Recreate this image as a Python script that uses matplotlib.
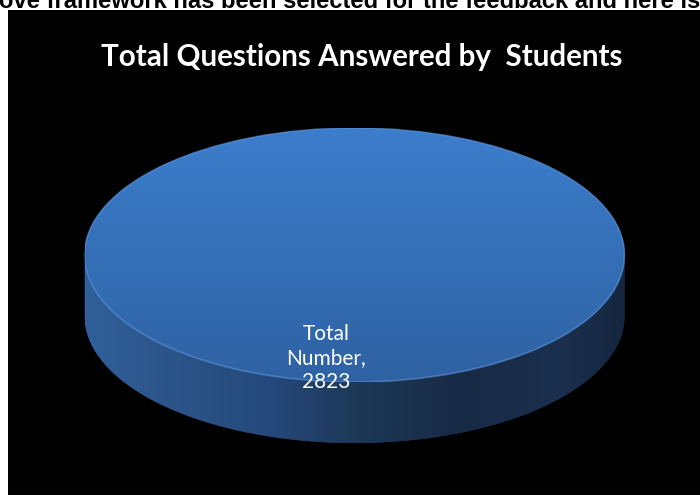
import numpy as np
import matplotlib.pyplot as plt
from matplotlib.colors import LinearSegmentedColormap
from matplotlib.patches import Rectangle, PathPatch, Ellipse
from matplotlib.path import Path

# Data from the chart
labels = ['Total Number']
values = [2823]
title = 'Total Questions Answered by  Students'
header = 'ove framework has been selected for the feedback and here is'

W, H = 700, 495
fig = plt.figure(figsize=(7, 4.95), dpi=100, facecolor='white')

# background in pixel coordinates
bg = fig.add_axes([0, 0, 1, 1])
bg.set_xlim(0, W)
bg.set_ylim(H, 0)
bg.axis('off')
bg.add_patch(Rectangle((8, 10), W - 8, H - 10, facecolor='black', edgecolor='none'))
bg.text(-1, 8.5, header, fontsize=17.1, fontweight='bold', family='Liberation Sans',
        color='black', ha='left', va='baseline')
bg.text(362, 57, title, fontsize=21.3, fontweight='bold', family='Lato',
        color='white', ha='center', va='center')

# 3d pie geometry (pixels)
cx, cy, a, b, depth = 354.5, 255, 270, 127, 61

# side of the disc
t = np.linspace(0, np.pi, 300)
upper = np.column_stack([cx + a * np.cos(t), cy + b * np.sin(t)])
lower = np.column_stack([cx + a * np.cos(t[::-1]), cy + depth + b * np.sin(t[::-1])])
verts = np.vstack([upper, lower, upper[:1]])
side = PathPatch(Path(verts), facecolor='#1e3759', edgecolor='none')
bg.add_patch(side)
side_cmap = LinearSegmentedColormap.from_list('side', [
    (0.0, '#30609a'), (0.17, '#2b5488'), (0.35, '#25487a'), (0.5, '#1d3858'),
    (0.7, '#172a45'), (0.88, '#1b304f'), (1.0, '#15263e')])
im = bg.imshow(np.linspace(0, 1, 256)[None, :], cmap=side_cmap,
               extent=(cx - a, cx + a, cy + b + depth, cy), aspect='auto', zorder=2)
im.set_clip_path(side)
bg.set_xlim(0, W)
bg.set_ylim(H, 0)

# top face from the pie
pax = fig.add_axes([(cx - a) / W, 1 - (cy + b) / H, 2 * a / W, 2 * b / H])
wedges, _ = pax.pie(values, radius=1, startangle=90, colors=['#3670b8'],
                    wedgeprops=dict(edgecolor='none'))
pax.set_aspect('auto')
pax.set_xlim(-1, 1)
pax.set_ylim(-1, 1)
pax.axis('off')
top_cmap = LinearSegmentedColormap.from_list('top', ['#3c7dcc', '#3570b7', '#2f62a3'])
im2 = pax.imshow(np.linspace(0, 1, 256)[:, None], cmap=top_cmap,
                 extent=(-1, 1, -1, 1), aspect='auto', zorder=2)
im2.set_clip_path(wedges[0])
pax.add_patch(Ellipse((0, 0), 2, 2, fill=False, edgecolor='#5a94da', lw=1.2,
                      alpha=0.6, zorder=3))
pax.set_xlim(-1, 1)
pax.set_ylim(-1, 1)

label = labels[0].replace(' ', '\n') + ',\n' + str(values[0])
pax.text(-0.105, -0.81, label, fontsize=15, family='Lato', color='white',
         ha='center', va='center', linespacing=1.25, zorder=4)

fig.savefig('out.png', dpi=100, facecolor='white')
